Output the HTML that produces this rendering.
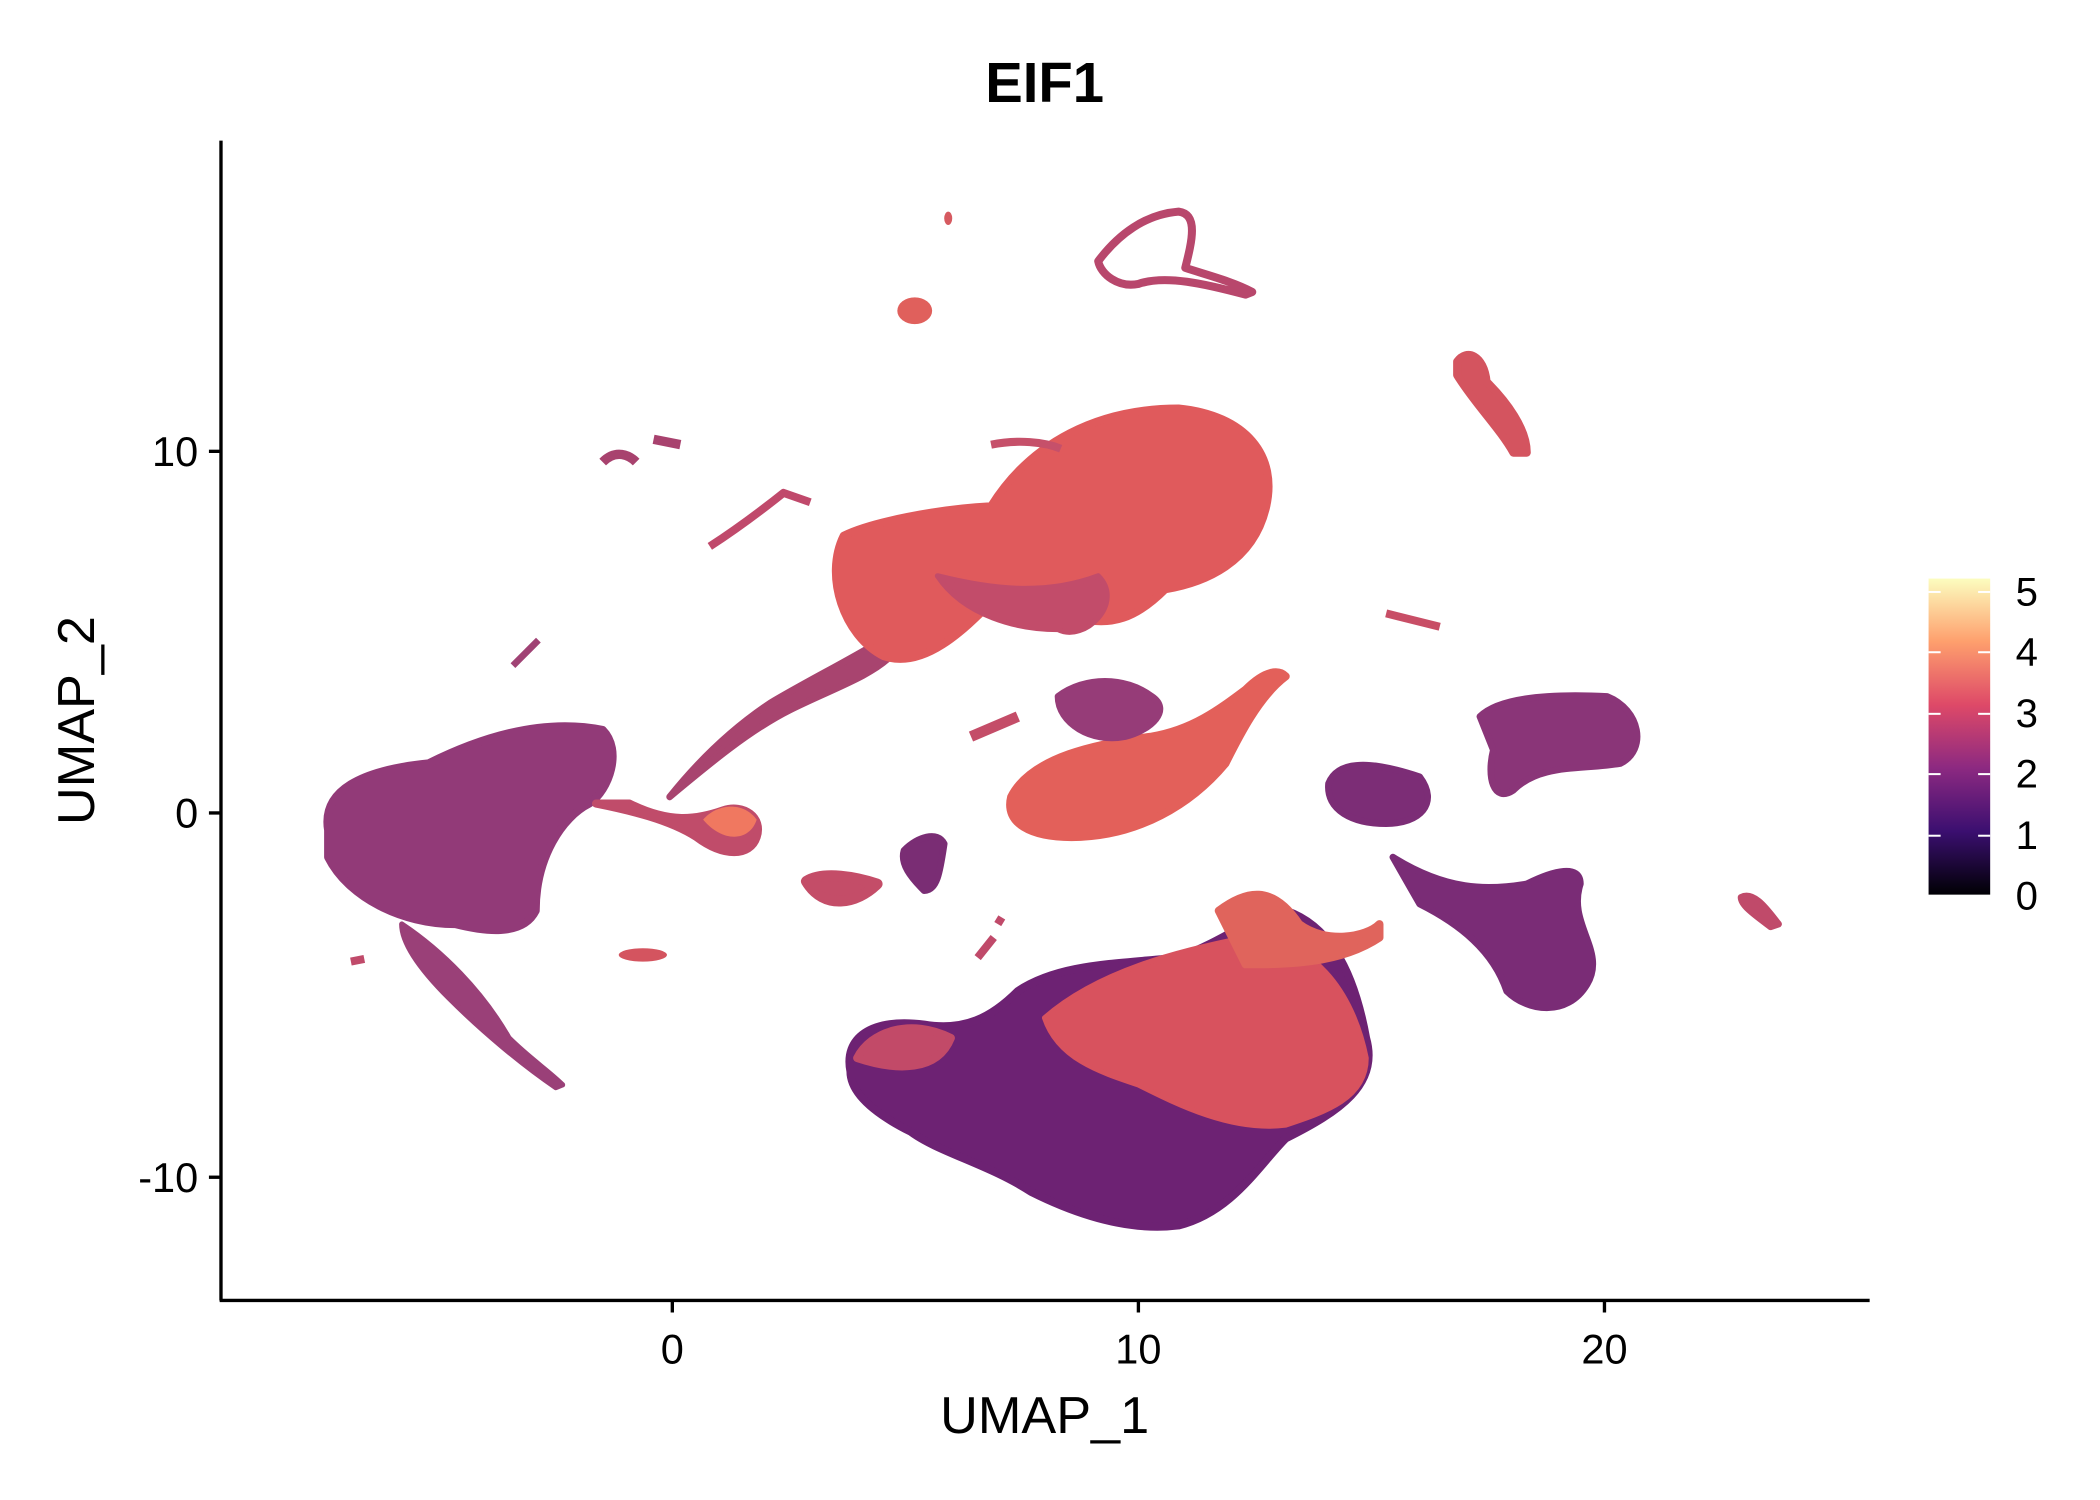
<!DOCTYPE html>
<html><head><style>html,body{margin:0;padding:0;background:#fff}svg{display:block}</style></head>
<body>
<svg width="2100" height="1500" viewBox="0 0 1568 1120" xmlns="http://www.w3.org/2000/svg" font-family="Liberation Sans, sans-serif">
<defs>
<linearGradient id="cb" x1="0" y1="1" x2="0" y2="0">
<stop offset="0" stop-color="#000004"/><stop offset="0.2" stop-color="#3b0f70"/><stop offset="0.4" stop-color="#8c2981"/><stop offset="0.6" stop-color="#de4968"/><stop offset="0.8" stop-color="#fe9f6d"/><stop offset="1" stop-color="#fcfdbf"/>
</linearGradient>
</defs>
<text x="780" y="76" font-size="42" font-weight="bold" text-anchor="middle">EIF1</text>
<g stroke-linejoin="round">
<path d="M245,620 C240,590 270,575 320,570 C350,555 400,535 450,545 C465,560 455,590 440,600 C420,610 400,640 400,680 C390,700 360,695 340,690 C300,690 260,670 245,640 Z" fill="#923a78" stroke="#923a78" stroke-width="6"/>
<path d="M300,690 C330,710 360,740 380,775 C395,790 410,800 420,810 L415,812 C390,795 360,770 335,745 C315,725 300,705 300,690 Z" fill="#9a4078" stroke="#9a4078" stroke-width="4"/>
<path d="M445,600 C470,605 500,612 520,625 C540,640 560,640 565,625 C570,610 555,600 540,605 C520,612 500,615 470,600 Z" fill="#c04c6a" stroke="#c04c6a" stroke-width="6"/>
<path d="M500,595 C530,570 560,545 590,530 C620,515 650,505 665,490 L655,480 C630,495 600,510 575,525 C545,545 520,570 500,595 Z" fill="#a8446f" stroke="#a8446f" stroke-width="5"/>
<path d="M630,400 C650,390 700,380 740,378 C770,330 820,305 880,305 C930,310 955,340 945,380 C935,420 900,435 870,440 C850,460 830,470 800,460 C780,470 760,470 740,450 C720,470 690,500 660,490 C630,475 615,430 630,400 Z" fill="#e05a5c" stroke="#e05a5c" stroke-width="6"/>
<path d="M700,430 C740,440 780,445 820,430 C840,450 810,480 790,470 C760,470 720,460 700,430 Z" fill="#c24c6a" stroke="#c24c6a" stroke-width="4"/>
<path d="M755,595 C770,565 820,555 860,550 C890,545 910,530 930,515 C945,500 955,500 960,505 C940,520 925,550 915,570 C890,600 850,625 800,625 C770,625 750,615 755,595 Z" fill="#e3605a" stroke="#e3605a" stroke-width="6"/>
<path d="M790,520 C810,505 840,505 860,520 C875,530 860,545 840,550 C815,555 790,540 790,520 Z" fill="#963c78" stroke="#963c78" stroke-width="5"/>
<path d="M635,800 C630,775 650,760 690,765 C720,770 740,760 760,740 C790,720 830,720 880,715 C920,700 940,680 960,680 C990,690 1010,720 1020,775 C1030,810 1000,830 960,850 C940,870 920,905 880,915 C840,920 800,905 770,890 C740,870 700,860 680,845 C650,830 635,815 635,800 Z" fill="#6d2273" stroke="#6d2273" stroke-width="6"/>
<path d="M780,760 C820,725 880,710 930,700 C980,700 1010,740 1020,790 C1020,820 990,830 960,840 C920,845 880,825 850,810 C820,800 790,790 780,760 Z" fill="#d8525e" stroke="#d8525e" stroke-width="4"/>
<path d="M640,790 C650,770 680,760 710,775 C700,800 670,800 640,790 Z" fill="#c24a68" stroke="#c24a68" stroke-width="6"/>
<path d="M910,680 C930,665 950,660 970,690 C990,705 1020,700 1030,690 L1030,700 C1000,720 960,720 930,720 Z" fill="#e0645c" stroke="#e0645c" stroke-width="6"/>
<path d="M1105,535 C1120,520 1160,518 1200,520 C1225,530 1230,560 1210,570 C1180,575 1150,570 1130,590 C1115,600 1110,580 1115,560 Z" fill="#8a3578" stroke="#8a3578" stroke-width="5"/>
<path d="M992,585 C1000,565 1030,570 1060,580 C1075,600 1060,615 1035,615 C1010,615 990,605 992,585 Z" fill="#7c2d76" stroke="#7c2d76" stroke-width="5"/>
<path d="M1040,640 C1080,665 1110,665 1140,660 C1160,650 1180,645 1180,660 C1170,690 1200,710 1185,735 C1170,760 1140,755 1125,740 C1115,710 1090,690 1060,675 Z" fill="#7a2c76" stroke="#7a2c76" stroke-width="5"/>
<path d="M1300,670 C1310,665 1320,680 1328,690 L1322,692 C1310,683 1300,676 1300,670 Z" fill="#c04a6a" stroke="#c04a6a" stroke-width="5"/>
<path d="M1088,270 C1095,260 1108,265 1110,285 C1125,300 1140,320 1140,338 L1130,338 C1120,320 1100,300 1088,280 Z" fill="#d4545f" stroke="#d4545f" stroke-width="6"/>
<path d="M820,195 C835,175 855,160 880,158 C895,160 890,180 885,200 C900,205 920,210 935,218 L930,220 C900,212 870,205 850,212 C835,215 822,205 820,195 Z" fill="none" stroke="#b8476c" stroke-width="6"/>
<ellipse cx="683" cy="232" rx="13" ry="10" fill="#e0605c"/>
<ellipse cx="708" cy="163" rx="3" ry="5" fill="#d65a60"/>
<path d="M740,332 C760,328 780,330 792,335" stroke="#c6506a" stroke-width="6" fill="none"/>
<path d="M450,345 C460,335 470,340 475,345 M488,328 L508,332" stroke="#a8426e" stroke-width="7" fill="none"/>
<path d="M530,408 C550,395 570,380 585,368 L605,375" stroke="#c0496b" stroke-width="6" fill="none"/>
<path d="M383,497 L402,478" stroke="#a04274" stroke-width="5"/>
<path d="M602,658 C615,650 640,655 655,660 C640,675 615,680 602,658 Z" fill="#c44d68" stroke="#c44d68" stroke-width="8"/>
<path d="M675,635 C685,625 700,620 705,630 C702,650 700,665 690,665 C680,655 672,645 675,635 Z" fill="#7a2d74" stroke="#7a2d74" stroke-width="5"/>
<path d="M725,550 L760,535" stroke="#c44d68" stroke-width="8"/>
<ellipse cx="480" cy="713" rx="18" ry="5" fill="#d4545f"/>
<path d="M730,715 L742,700 M745,690 L748,685" stroke="#c04a6a" stroke-width="6"/>
<path d="M1035,458 L1075,468" stroke="#c84e66" stroke-width="6"/>
<path d="M262,718 L272,716" stroke="#c04a6a" stroke-width="6"/>
<path d="M525,612 C535,600 555,598 565,612 C560,628 540,630 525,612 Z" fill="#f07860"/>
</g>
<g stroke="#000" stroke-width="2.5" fill="none">
<line x1="165" y1="105" x2="165" y2="971"/>
<line x1="164" y1="971" x2="1396" y2="971"/>
<line x1="502" y1="971" x2="502" y2="980"/><line x1="850" y1="971" x2="850" y2="980"/><line x1="1198" y1="971" x2="1198" y2="980"/>
<line x1="156" y1="337" x2="165" y2="337"/><line x1="156" y1="607" x2="165" y2="607"/><line x1="156" y1="879" x2="165" y2="879"/>
</g>
<g font-size="31" fill="#000">
<text x="502" y="1018" text-anchor="middle">0</text>
<text x="850" y="1018" text-anchor="middle">10</text>
<text x="1198" y="1018" text-anchor="middle">20</text>
<text x="148" y="348" text-anchor="end">10</text>
<text x="148" y="618" text-anchor="end">0</text>
<text x="148" y="890" text-anchor="end">-10</text>
</g>
<text x="780" y="1070" font-size="39" text-anchor="middle">UMAP_1</text>
<text transform="translate(70,538) rotate(-90)" font-size="39" text-anchor="middle">UMAP_2</text>
<rect x="1440" y="432" width="46" height="236" fill="url(#cb)"/>
<g stroke="#fff" stroke-width="1.5">
<line x1="1440" y1="442" x2="1449" y2="442"/><line x1="1477" y1="442" x2="1486" y2="442"/>
<line x1="1440" y1="487" x2="1449" y2="487"/><line x1="1477" y1="487" x2="1486" y2="487"/>
<line x1="1440" y1="533" x2="1449" y2="533"/><line x1="1477" y1="533" x2="1486" y2="533"/>
<line x1="1440" y1="578" x2="1449" y2="578"/><line x1="1477" y1="578" x2="1486" y2="578"/>
<line x1="1440" y1="624" x2="1449" y2="624"/><line x1="1477" y1="624" x2="1486" y2="624"/>
<line x1="1440" y1="669" x2="1449" y2="669"/><line x1="1477" y1="669" x2="1486" y2="669"/>
</g>
<g font-size="30">
<text x="1505" y="452">5</text><text x="1505" y="497">4</text><text x="1505" y="543">3</text>
<text x="1505" y="588">2</text><text x="1505" y="634">1</text><text x="1505" y="679">0</text>
</g>
</svg>
</body></html>
